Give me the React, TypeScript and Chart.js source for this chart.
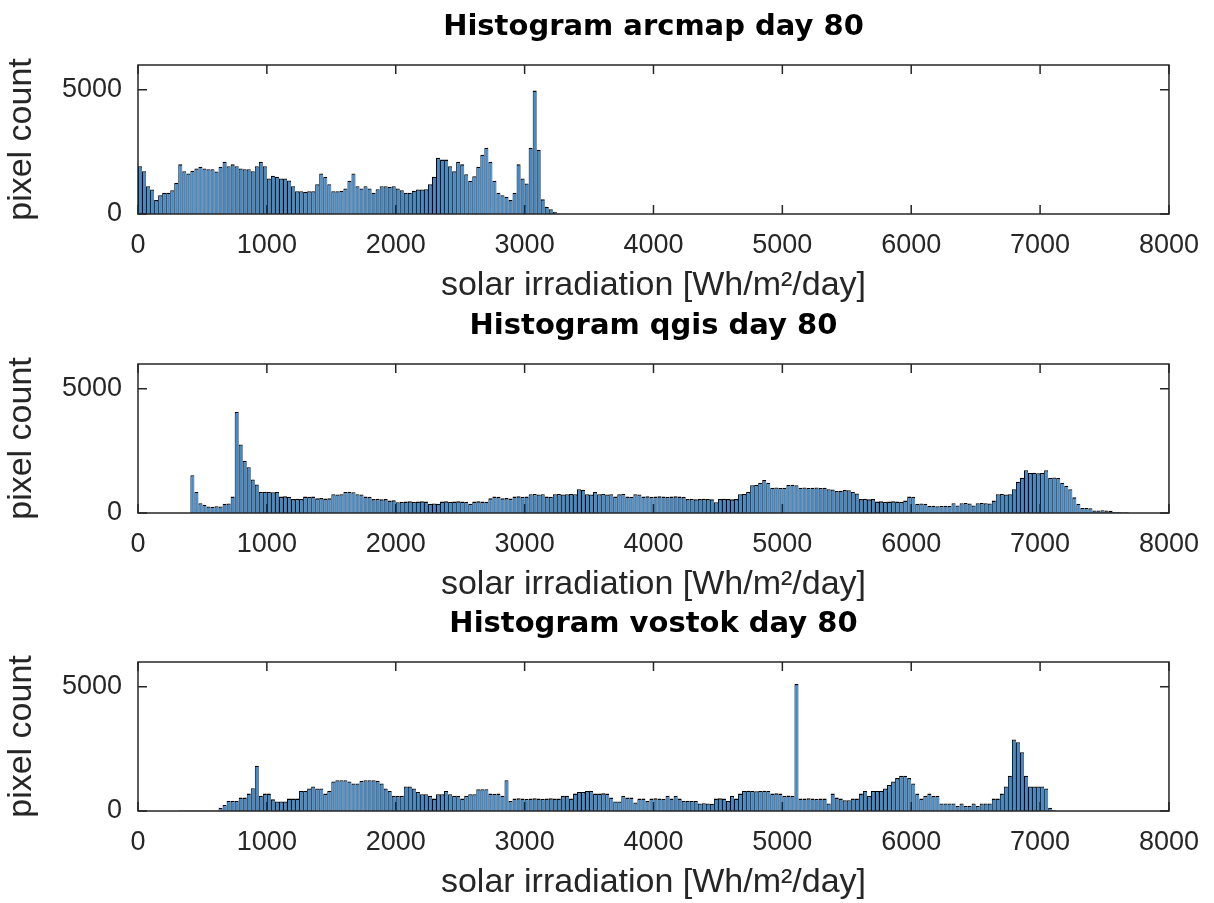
import React, { useEffect, useRef } from 'react';
import { Chart, registerables } from 'chart.js';

Chart.register(...registerables);

// ---------- data ----------
const BIN_WIDTH = 31.25; // Wh/m²/day per histogram bin
const X_TICKS = [0, 1000, 2000, 3000, 4000, 5000, 6000, 7000, 8000];
const Y_TICKS = [0, 5000];
const X_LABEL = 'solar irradiation [Wh/m²/day]';
const Y_LABEL = 'pixel count';

const ARCMAP_TITLE = 'Histogram arcmap day 80';
const ARCMAP_START_BIN = 0;
const ARCMAP_COUNTS = [
  1925, 1725, 1120, 990, 560, 760, 855, 855, 960, 1255,
  2000, 1725, 1630, 1740, 1830, 1900, 1830, 1800, 1800, 1710,
  1900, 2100, 1925, 2000, 1925, 1830, 1800, 1800, 1725, 1925,
  2100, 1925, 1430, 1540, 1500, 1430, 1430, 1350, 1120, 920,
  920, 900, 920, 920, 1200, 1630, 1500, 1200, 920, 920,
  940, 1030, 1340, 1630, 1120, 1030, 1120, 1030, 855, 1000,
  1120, 1120, 1100, 1120, 1030, 960, 855, 855, 935, 990,
  990, 1000, 1200, 1500, 2270, 2190, 2190, 1925, 1725, 2100,
  2000, 1600, 1340, 1520, 1900, 2390, 2670, 2100, 1340, 855,
  760, 695, 560, 855, 2000, 1430, 1230, 2670, 4970, 2590,
  590, 295, 190, 95, 25,
];

const QGIS_TITLE = 'Histogram qgis day 80';
const QGIS_START_BIN = 13;
const QGIS_COUNTS = [
  1520, 850, 390, 330, 260, 250, 270, 260, 370, 380,
  660, 4070, 2760, 2100, 1840, 1350, 1150, 850, 860, 850,
  840, 850, 660, 670, 650, 560, 570, 560, 660, 650,
  660, 590, 600, 580, 590, 760, 750, 760, 850, 860,
  840, 760, 750, 660, 650, 560, 570, 550, 560, 500,
  510, 430, 440, 460, 470, 450, 460, 470, 460, 370,
  380, 370, 460, 470, 450, 460, 470, 460, 450, 370,
  460, 470, 460, 450, 590, 660, 650, 590, 600, 580,
  660, 670, 650, 660, 760, 770, 750, 760, 660, 650,
  760, 770, 750, 760, 770, 760, 960, 940, 760, 750,
  850, 760, 770, 750, 760, 660, 760, 770, 660, 650,
  760, 750, 660, 670, 650, 660, 670, 660, 650, 660,
  670, 660, 650, 560, 570, 550, 560, 570, 560, 550,
  430, 560, 570, 560, 550, 560, 760, 770, 850, 1120,
  1130, 1220, 1325, 1220, 1020, 1030, 1010, 1020, 1130, 1140,
  1120, 1020, 1030, 1010, 1020, 1030, 1010, 1020, 960, 950,
  890, 900, 930, 920, 850, 790, 560, 570, 550, 560,
  460, 470, 450, 460, 470, 460, 450, 500, 660, 650,
  370, 380, 370, 280, 290, 270, 280, 290, 280, 390,
  300, 390, 400, 380, 300, 390, 400, 390, 380, 500,
  760, 770, 750, 760, 960, 1260, 1420, 1720, 1610, 1620,
  1600, 1610, 1720, 1420, 1430, 1410, 1220, 1100, 960, 630,
  370, 200, 200, 190, 100, 100, 110, 100, 90, 40,
  40, 35, 30,
];

const VOSTOK_TITLE = 'Histogram vostok day 80';
const VOSTOK_START_BIN = 10;
const VOSTOK_COUNTS = [
  20, 20, 20, 20, 20, 20, 20, 20, 20, 20,
  135, 240, 405, 405, 405, 540, 540, 700, 920, 1820,
  610, 700, 700, 470, 380, 380, 380, 500, 500, 500,
  810, 810, 905, 985, 905, 905, 700, 810, 1190, 1240,
  1240, 1240, 1190, 1110, 1110, 1215, 1240, 1240, 1240, 1215,
  1110, 905, 810, 610, 610, 610, 985, 985, 905, 770,
  675, 675, 610, 500, 675, 675, 810, 675, 610, 610,
  500, 610, 675, 675, 880, 880, 880,
  700, 690, 700, 610, 1240, 405, 500, 510, 500, 490,
  500, 510, 500, 490, 500, 510, 500, 500, 610, 610,
  500, 700, 770, 770, 810, 810, 700, 700, 710, 700,
  540, 380, 380, 610, 540, 540, 340, 500, 500, 405,
  500, 510, 500, 490, 610, 500, 610, 500, 405, 410,
  400, 405, 300, 310, 300, 290, 500, 510, 500, 405,
  610, 500, 700, 810, 820, 810, 800, 810, 820, 810,
  700, 710, 700, 610, 620, 610, 5110, 500, 500, 510,
  500, 490, 500, 500, 300,
  700, 540, 500, 430, 430, 500, 500, 700, 810, 610,
  810, 810, 810, 905, 1050, 1190, 1325, 1420, 1420, 1325,
  1110, 700, 500, 610, 700, 610, 610, 300, 300, 300,
  300, 200, 300, 200, 200, 300, 200, 300, 300, 300,
  500, 500, 700, 985, 1420, 2880, 2770, 2370, 1420, 985,
  985, 985, 985, 905, 135, 30,
];

// ---------- style ----------
const CANVAS_W = 1214;
const CANVAS_H = 306;
const PANEL_TOPS = [0, 299, 597];
const AXIS_COLOR = '#262626';
const BAR_FILL = '#3d8bd0';
const TICK_FONT = { family: 'Liberation Sans, Arial, sans-serif', size: 27 };
const LABEL_FONT = { family: 'Liberation Sans, Arial, sans-serif', size: 34 };
const TITLE_FONT = { family: 'DejaVu Sans, sans-serif', size: 29, weight: 'bold' as const };

const frameTicksPlugin = {
  id: 'matlabFrame',
  afterDatasetsDraw(chart: any) {
    const { ctx, chartArea, scales } = chart;
    const { left, right, top, bottom } = chartArea;
    const x = scales.x;
    const y = scales.y;
    const len = 9;
    ctx.save();
    ctx.strokeStyle = AXIS_COLOR;
    ctx.lineWidth = 1.5;
    ctx.beginPath();
    for (const v of X_TICKS) {
      const px = x.getPixelForValue(v);
      ctx.moveTo(px, bottom);
      ctx.lineTo(px, bottom - len);
      ctx.moveTo(px, top);
      ctx.lineTo(px, top + len);
    }
    for (const v of Y_TICKS) {
      const py = y.getPixelForValue(v);
      ctx.moveTo(left, py);
      ctx.lineTo(left + len, py);
      ctx.moveTo(right, py);
      ctx.lineTo(right - len, py);
    }
    ctx.stroke();
    ctx.strokeRect(left, top, right - left, bottom - top);
    ctx.restore();
  },
};

type PanelProps = { title: string; startBin: number; counts: number[]; top: number };

function HistogramPanel({ title, startBin, counts, top }: PanelProps) {
  const ref = useRef<HTMLCanvasElement | null>(null);

  useEffect(() => {
    if (!ref.current) return;
    const data = counts.map((c, i) => ({ x: (startBin + i + 0.5) * BIN_WIDTH, y: c }));
    const chart = new Chart(ref.current, {
      type: 'bar',
      data: {
        datasets: [
          {
            data: data as any,
            backgroundColor: BAR_FILL,
            borderColor: '#000000',
            borderWidth: { left: 1, right: 0.6, top: 1.3, bottom: 0 } as any,
            borderSkipped: 'start',
            barPercentage: 1,
            categoryPercentage: 1,
            inflateAmount: 0,
          } as any,
        ],
      },
      options: {
        responsive: false,
        animation: false,
        devicePixelRatio: 1,
        events: [],
        layout: { padding: { left: 0, right: 44, top: 0, bottom: 0 }, autoPadding: false },
        plugins: {
          legend: { display: false },
          tooltip: { enabled: false },
          title: {
            display: true,
            text: title,
            fullSize: false,
            color: '#000000',
            font: TITLE_FONT,
            padding: { top: 10, bottom: 20.2 },
          },
        },
        scales: {
          x: {
            type: 'linear',
            min: 0,
            max: 8000,
            offset: false,
            grid: { display: false, drawTicks: false },
            border: { display: false },
            afterBuildTicks: (s: any) => {
              s.ticks = X_TICKS.map((v) => ({ value: v }));
            },
            afterFit: (s: any) => {
              s.height = CANVAS_H - 214;
            },
            ticks: {
              padding: 15,
              color: AXIS_COLOR,
              font: TICK_FONT,
              autoSkip: false,
              maxRotation: 0,
              callback: (v: any) => String(v),
            },
            title: {
              display: true,
              text: X_LABEL,
              color: AXIS_COLOR,
              font: LABEL_FONT,
              padding: { top: 0, bottom: 0 },
            },
          },
          y: {
            type: 'linear',
            min: 0,
            max: 6000,
            grid: { display: false, drawTicks: false },
            border: { display: false },
            afterBuildTicks: (s: any) => {
              s.ticks = Y_TICKS.map((v) => ({ value: v }));
            },
            afterFit: (s: any) => {
              s.width = 138;
            },
            ticks: {
              padding: 16,
              color: AXIS_COLOR,
              font: TICK_FONT,
              callback: (v: any) => String(v),
            },
            title: {
              display: true,
              text: Y_LABEL,
              color: AXIS_COLOR,
              font: LABEL_FONT,
              padding: { top: 1, bottom: 0 },
            },
          },
        },
      } as any,
      plugins: [frameTicksPlugin],
    });
    return () => chart.destroy();
  }, [title, startBin, counts]);

  return (
    <canvas
      ref={ref}
      width={CANVAS_W}
      height={CANVAS_H}
      style={{ position: 'absolute', left: 0, top, width: CANVAS_W, height: CANVAS_H }}
    />
  );
}

export default function App() {
  return (
    <div
      style={{
        position: 'absolute',
        left: 0,
        top: 0,
        width: CANVAS_W,
        height: 903,
        overflow: 'hidden',
        background: '#ffffff',
      }}
    >
      <HistogramPanel title={ARCMAP_TITLE} startBin={ARCMAP_START_BIN} counts={ARCMAP_COUNTS} top={PANEL_TOPS[0]} />
      <HistogramPanel title={QGIS_TITLE} startBin={QGIS_START_BIN} counts={QGIS_COUNTS} top={PANEL_TOPS[1]} />
      <HistogramPanel title={VOSTOK_TITLE} startBin={VOSTOK_START_BIN} counts={VOSTOK_COUNTS} top={PANEL_TOPS[2]} />
    </div>
  );
}
